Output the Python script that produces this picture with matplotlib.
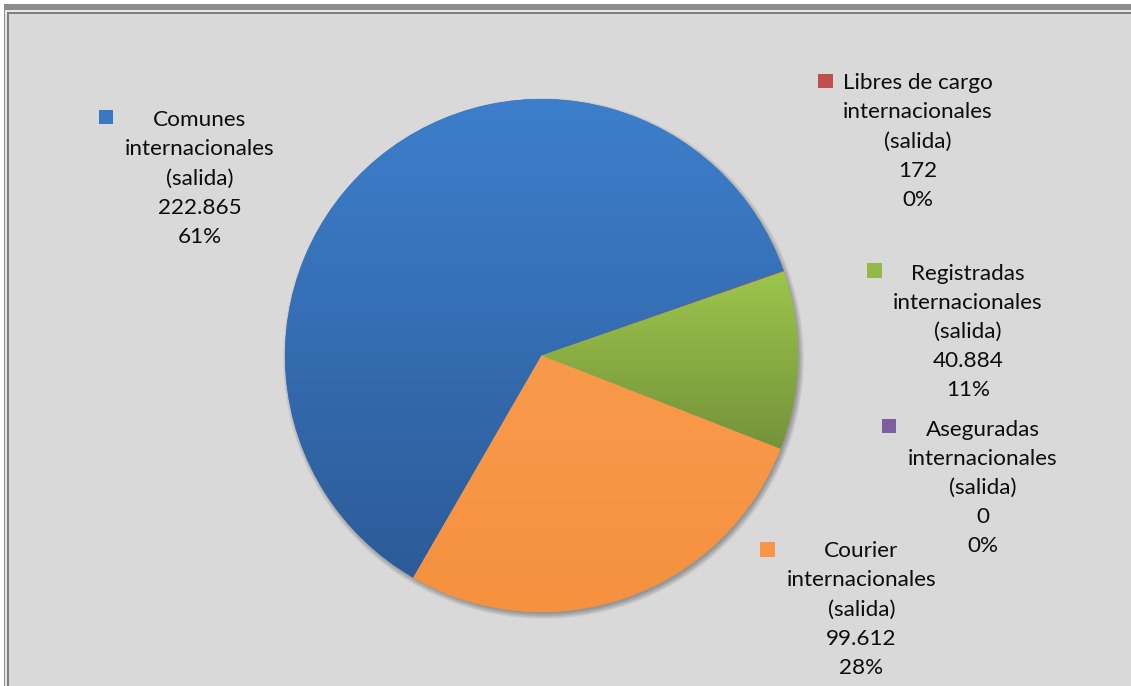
import numpy as np
import matplotlib
matplotlib.use("Agg")
import matplotlib.pyplot as plt
from matplotlib.patches import Rectangle, Circle
from matplotlib.colors import LinearSegmentedColormap
from matplotlib.font_manager import FontProperties
from matplotlib.textpath import TextPath

# ---------------- data ----------------
categories = ["Comunes internacionales (salida)",
              "Libres de cargo internacionales (salida)",
              "Registradas internacionales (salida)",
              "Aseguradas internacionales (salida)",
              "Courier internacionales (salida)"]
label_lines = [["Comunes", "internacionales", "(salida)"],
               ["Libres de cargo", "internacionales", "(salida)"],
               ["Registradas", "internacionales", "(salida)"],
               ["Aseguradas", "internacionales", "(salida)"],
               ["Courier", "internacionales", "(salida)"]]
values = [222865, 172, 40884, 0, 99612]
value_labels = ["222.865", "172", "40.884", "0", "99.612"]
percent_labels = ["61%", "0%", "11%", "0%", "28%"]

# ---------------- style ----------------
top_colors = ["#3d7fcc", "#cc5450", "#9cc64c", "#8467a6", "#f89a4b"]
bot_colors = ["#2c5b98", "#a8403d", "#75923a", "#6a5089", "#f5913f"]
key_colors = ["#3a78c3", "#c0504d", "#93b948", "#7d5f9f", "#f79646"]
W, H = 1131, 686
BG = "#d9d9d9"
FONT = "Lato"

fig = plt.figure(figsize=(W / 100, H / 100), dpi=100)
fig.patch.set_facecolor("white")
ax = fig.add_axes([0, 0, 1, 1])
ax.set_xlim(0, W)
ax.set_ylim(0, H)
ax.axis("off")

def Y(py):
    return H - py

# chart area background with double border
ax.add_patch(Rectangle((3.5, Y(H + 5)), W + 10, H - 3.5 + 5, facecolor="#8c8c8c", edgecolor="none", zorder=0))
ax.add_patch(Rectangle((5, Y(H + 5)), W + 10, H - 10 + 5, facecolor="#e6e6e6", edgecolor="none", zorder=0))
ax.add_patch(Rectangle((6.5, Y(H + 5)), W + 10, H - 12 + 5, facecolor="#7f7f7f", edgecolor="none", zorder=0))
ax.add_patch(Rectangle((8.5, Y(H + 5)), W + 10, H - 14 + 5, facecolor=BG, edgecolor="none", zorder=0))

cx, cy, r = 541.5, Y(355.5), 256.5

# soft shadow
for k in range(8):
    ax.add_patch(Circle((cx + 2.0, cy - 3.0), r + 4 - k * 0.8, facecolor="black",
                        edgecolor="none", alpha=0.045, zorder=1))

total = sum(values)
comunes_angle = values[0] / total * 360.0
start = 19.3 + comunes_angle
wedges, _ = ax.pie(values, startangle=start, counterclock=False, center=(cx, cy),
                   radius=r, colors=key_colors, frame=False,
                   wedgeprops=dict(linewidth=0, edgecolor="none"))
ax.set_xlim(0, W)
ax.set_ylim(0, H)
ax.set_aspect("equal")
ax.axis("off")

# gradient fill per wedge
for i, w in enumerate(wedges):
    w.set_zorder(2)
    if values[i] <= 0:
        continue
    path = w.get_path()
    verts = w.get_transform().transform(path.vertices)
    verts = ax.transData.inverted().transform(verts)
    x0, x1 = verts[:, 0].min(), verts[:, 0].max()
    y0, y1 = verts[:, 1].min(), verts[:, 1].max()
    cmap = LinearSegmentedColormap.from_list("g%d" % i, [bot_colors[i], top_colors[i]])
    grad = np.linspace(0, 1, 256).reshape(-1, 1)
    im = ax.imshow(grad, extent=(x0, x1, y0, y1), origin="lower", cmap=cmap,
                   aspect="auto", zorder=3, interpolation="bilinear")
    im.set_clip_path(w)
ax.set_xlim(0, W)
ax.set_ylim(0, H)

# font size fitted so that "internacionales" ~147 px wide
fp = FontProperties(family=FONT)
tp = TextPath((0, 0), "internacionales", size=100, prop=fp)
ext = tp.get_extents()
fs_px = 147.0 / ext.width * 100
fs_pt = fs_px * 72 / 100

# label layout: (center x, first baseline y) in pixels, key square (x, y top)
label_pos = [(199.5, 126.0), (918.0, 89.0), (968.0, 279.5), (982.5, 435.5), (861.3, 557.0)]
key_pos = [(98.5, 109.5), (818.0, 73.5), (867.0, 263.0), (881.5, 418.5), (760.0, 542.0)]
key_size = 14.5
line_h = 29.25

for i in range(len(values)):
    lines = label_lines[i] + [value_labels[i], percent_labels[i]]
    lx, ly = label_pos[i]
    for j, t in enumerate(lines):
        ax.text(lx, Y(ly + j * line_h), t, ha="center", va="baseline",
                fontsize=fs_pt, family=FONT, color="#0d0d0d", zorder=5)
    kx, ky = key_pos[i]
    ax.add_patch(Rectangle((kx, Y(ky + key_size)), key_size, key_size,
                           facecolor=key_colors[i], edgecolor="none", zorder=5))

fig.savefig("out.png", dpi=100, facecolor=fig.get_facecolor())
